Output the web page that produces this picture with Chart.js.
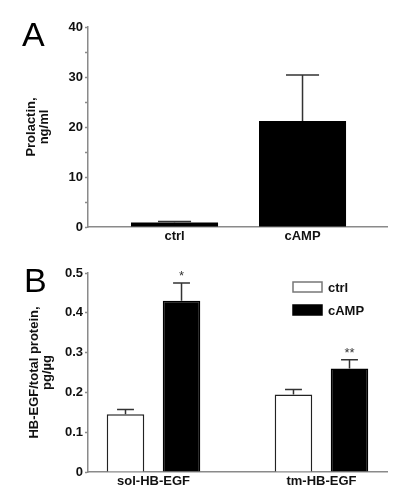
<!DOCTYPE html>
<html>
<head>
<meta charset="utf-8">
<script src="https://cdn.jsdelivr.net/npm/chart.js@4.4.1/dist/chart.umd.min.js"></script>
<style>
html, body { margin: 0; padding: 0; background: #fff; }
#wrap { position: relative; width: 400px; height: 495px; }
canvas { position: absolute; left: 0; }
</style>
</head>
<body>
<div id="wrap">
	<canvas id="chartA" width="400" height="250" style="top:0"></canvas>
	<canvas id="chartB" width="400" height="245" style="top:250px"></canvas>
</div>
<script>
// panel A - prolactin
var A_CATEGORIES = ["ctrl", "cAMP"];
var A_VALUES = [0.9, 21.2];
var A_ERRORS = [0.2, 9.2];
var A_TICKS = [0, 10, 20, 30, 40];
var A_MINOR_TICKS = [5, 15, 25, 35];

// panel B - HB-EGF / total protein
var B_CATEGORIES = ["sol-HB-EGF", "tm-HB-EGF"];
var B_SERIES = ["ctrl", "cAMP"];
var B_CTRL = [0.145, 0.195];
var B_CTRL_ERR = [0.012, 0.012];
var B_CAMP = [0.43, 0.26];
var B_CAMP_ERR = [0.045, 0.022];
var B_CAMP_MARKS = ["*", "**"];
var B_TICKS = [0, 0.1, 0.2, 0.3, 0.4, 0.5];

var FONT = "'Liberation Sans', Arial, sans-serif";
var AXIS_GREY = "#8a8a8a";
var TEXT = "#111";

function toPoints(values) {
	return values.map(function(v, i) { return { x: i, y: v }; });
}

function tickFont() {
	return { family: FONT, size: 13, weight: "bold" };
}

var errorBarPlugin = {
	id: "errorBars",
	afterDatasetsDraw: function(chart, args, opts) {
		var ctx = chart.ctx;
		var yScale = chart.scales.y;
		chart.data.datasets.forEach(function(ds, di) {
			var meta = chart.getDatasetMeta(di);
			meta.data.forEach(function(bar, i) {
				var top = yScale.getPixelForValue(ds.data[i].y + ds.errors[i]);
				var half = bar.width * opts.capRatio / 2;
				ctx.save();
				ctx.strokeStyle = opts.color;
				ctx.lineWidth = opts.lineWidth;
				ctx.beginPath();
				ctx.moveTo(bar.x, bar.y);
				ctx.lineTo(bar.x, top);
				ctx.moveTo(bar.x - half, top);
				ctx.lineTo(bar.x + half, top);
				ctx.stroke();
				if (ds.marks && ds.marks[i]) {
					ctx.fillStyle = "#333";
					ctx.font = "13px " + FONT;
					ctx.textAlign = "center";
					ctx.textBaseline = "alphabetic";
					ctx.fillText(ds.marks[i], bar.x, top - 3);
				}
				ctx.restore();
			});
		});
	}
};

var panelLetterPlugin = {
	id: "panelLetter",
	afterDraw: function(chart, args, opts) {
		var ctx = chart.ctx;
		ctx.save();
		ctx.font = "34px " + FONT;
		ctx.fillStyle = "#000";
		ctx.textAlign = "left";
		ctx.textBaseline = "alphabetic";
		ctx.fillText(opts.text, opts.x, opts.y);
		ctx.restore();
	}
};

var boxLegendPlugin = {
	id: "boxLegend",
	afterDraw: function(chart, args, opts) {
		if (!opts.show) return;
		var ctx = chart.ctx;
		ctx.save();
		chart.data.datasets.forEach(function(ds, i) {
			var top = opts.y + i * opts.rowGap;
			ctx.fillStyle = ds.backgroundColor;
			ctx.fillRect(opts.x, top, opts.boxW, opts.boxH);
			ctx.strokeStyle = ds.legendBorder;
			ctx.lineWidth = 1.5;
			ctx.strokeRect(opts.x, top, opts.boxW, opts.boxH);
			ctx.fillStyle = TEXT;
			ctx.font = "bold 13px " + FONT;
			ctx.textBaseline = "middle";
			ctx.fillText(ds.label, opts.x + opts.boxW + 6, top + opts.boxH / 2 + 1);
		});
		ctx.restore();
	}
};

function yAxis(min, max, ticks, labelled, title, titlePad) {
	return {
		min: min,
		max: max,
		afterFit: function(s) { s.width = 88; },
		afterBuildTicks: function(s) {
			s.ticks = ticks.map(function(v) { return { value: v }; });
		},
		border: { color: AXIS_GREY, width: 1.5 },
		grid: { drawOnChartArea: false, tickLength: 3, color: AXIS_GREY, tickColor: AXIS_GREY, tickWidth: 1.5 },
		ticks: {
			padding: 2,
			color: TEXT,
			font: tickFont(),
			callback: function(v) { return labelled.indexOf(v) >= 0 ? String(v) : ""; }
		},
		title: {
			display: true,
			text: title,
			color: TEXT,
			font: { family: FONT, size: 13, weight: "bold", lineHeight: 1.0 },
			padding: { top: titlePad, bottom: 0 }
		}
	};
}

function xAxis(min, max, categories) {
	return {
		type: "linear",
		min: min,
		max: max,
		offset: false,
		afterFit: function(s) { s.height = 23; },
		afterBuildTicks: function(s) {
			s.ticks = categories.map(function(c, i) { return { value: i }; });
		},
		border: { color: AXIS_GREY, width: 1.5 },
		grid: { display: false, drawTicks: false, offset: false },
		ticks: {
			padding: 2,
			color: TEXT,
			font: tickFont(),
			maxRotation: 0,
			autoSkip: false,
			callback: function(v) { return categories[v]; }
		}
	};
}

new Chart(document.getElementById("chartA"), {
	type: "bar",
	data: {
		datasets: [{
			label: "prolactin",
			data: toPoints(A_VALUES),
			errors: A_ERRORS,
			backgroundColor: "#000",
			borderWidth: 0,
			categoryPercentage: 1.0,
			barPercentage: 0.68
		}]
	},
	options: {
		responsive: false,
		animation: false,
		devicePixelRatio: 1,
		layout: { padding: { top: 27, right: 13, left: 0, bottom: 0 } },
		plugins: {
			legend: { display: false },
			tooltip: { enabled: false },
			errorBars: { color: "#333", lineWidth: 1.5, capRatio: 0.38 },
			panelLetter: { text: "A", x: 22, y: 46 },
			boxLegend: { show: false }
		},
		scales: {
			x: xAxis(-0.676, 1.66, A_CATEGORIES),
			y: yAxis(0, 40, A_TICKS.concat(A_MINOR_TICKS).sort(function(a, b) { return a - b; }), A_TICKS, ["Prolactin,", "ng/ml"], 25)
		}
	},
	plugins: [errorBarPlugin, panelLetterPlugin, boxLegendPlugin]
});

new Chart(document.getElementById("chartB"), {
	type: "bar",
	data: {
		datasets: [{
			label: B_SERIES[0],
			data: toPoints(B_CTRL),
			errors: B_CTRL_ERR,
			backgroundColor: "#fff",
			borderColor: "#222",
			legendBorder: "#777",
			borderWidth: 1.5,
			categoryPercentage: 0.667,
			barPercentage: 0.67
		}, {
			label: B_SERIES[1],
			data: toPoints(B_CAMP),
			errors: B_CAMP_ERR,
			marks: B_CAMP_MARKS,
			backgroundColor: "#000",
			borderColor: "#000",
			legendBorder: "#000",
			borderWidth: 1.5,
			categoryPercentage: 0.667,
			barPercentage: 0.67
		}]
	},
	options: {
		responsive: false,
		animation: false,
		devicePixelRatio: 1,
		layout: { padding: { top: 23, right: 13, left: 0, bottom: 0 } },
		plugins: {
			legend: { display: false },
			tooltip: { enabled: false },
			errorBars: { color: "#333", lineWidth: 1.5, capRatio: 0.45 },
			panelLetter: { text: "B", x: 24, y: 42 },
			boxLegend: { show: true, x: 293, y: 32, boxW: 29, boxH: 10, rowGap: 23 }
		},
		scales: {
			x: xAxis(-0.39, 1.39, B_CATEGORIES),
			y: yAxis(0, 0.5, B_TICKS, B_TICKS, ["HB-EGF/total protein,", "pg/\u00b5g"], 28)
		}
	},
	plugins: [errorBarPlugin, panelLetterPlugin, boxLegendPlugin]
});
</script>
</body>
</html>
